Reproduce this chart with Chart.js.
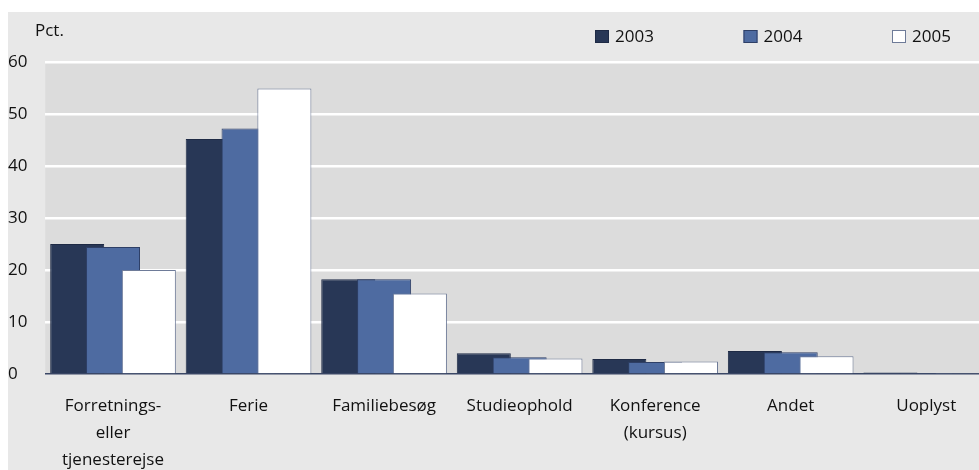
<!DOCTYPE html>
<html>
<head>
<meta charset="utf-8">
<script src="https://cdn.jsdelivr.net/npm/chart.js@4.4.1/dist/chart.umd.min.js"></script>
<style>
  html, body { margin: 0; padding: 0; background: #ffffff; overflow: hidden; width: 979px; height: 470px; }
  #wrap { position: relative; width: 994px; height: 470px; }
  canvas { display: block; }
</style>
</head>
<body>
<div id="wrap"><canvas id="c" width="994" height="470"></canvas></div>
<script>
const categories = [["Forretnings-", "eller", "tjenesterejse"], "Ferie", "Familiebesøg", "Studieophold", ["Konference", "(kursus)"], "Andet", "Uoplyst"];
const years = ["2003", "2004", "2005"];
const values2003 = [25.0, 45.2, 18.2, 4.0, 2.9, 4.4, 0.3];
const values2004 = [24.4, 47.2, 18.2, 3.2, 2.3, 4.2, 0.2];
const values2005 = [20.0, 54.9, 15.5, 3.0, 2.4, 3.4, 0.2];
const yTickValues = [0, 10, 20, 30, 40, 50, 60];
const yUnit = "Pct.";

const FONT = "'Open Sans', sans-serif";
const TEXT = '#111111';
const fills = ["#283756", "#4e6ba1", "#ffffff"];
const borders = ["#1e2a45", "#2e3f66", "#6e7b98"];

const bgPlugin = {
  id: 'bg',
  beforeDraw(chart) {
    const ctx = chart.ctx, a = chart.chartArea;
    ctx.save();
    ctx.fillStyle = '#e8e8e8';
    ctx.fillRect(8, 12, chart.width - 8, chart.height - 12);
    ctx.fillStyle = '#dcdcdc';
    ctx.fillRect(a.left, a.top, a.right - a.left, a.bottom - a.top);
    ctx.restore();
  }
};

const orderPlugin = {
  id: 'drawOrder',
  beforeDatasetsDraw(chart) {
    const metas = chart.getSortedVisibleDatasetMetas();
    for (let i = 0; i < metas.length; i++) chart._drawDataset(metas[i]);
    return false;
  }
};

const legendPlugin = {
  id: 'customLegend',
  afterDraw(chart) {
    const ctx = chart.ctx;
    ctx.save();
    ctx.font = "17px " + FONT;
    ctx.textBaseline = 'middle';
    ctx.textAlign = 'left';
    ctx.fillStyle = TEXT;
    ctx.fillText(yUnit, 35, 31);
    chart.data.datasets.forEach((ds, i) => {
      const x = 595 + i * 148.5;
      const y = 30;
      ctx.fillStyle = ds.backgroundColor;
      ctx.fillRect(x, y, 14, 13);
      ctx.strokeStyle = ds.borderColor;
      ctx.lineWidth = 1;
      ctx.strokeRect(x + 0.5, y + 0.5, 13, 12);
      ctx.fillStyle = TEXT;
      ctx.fillText(ds.label, x + 20, y + 7);
    });
    ctx.restore();
  }
};

const seriesValues = [values2003, values2004, values2005];

new Chart(document.getElementById('c'), {
  type: 'bar',
  data: {
    labels: categories,
    datasets: years.map((y, i) => ({
      label: y,
      data: seriesValues[i],
      backgroundColor: fills[i],
      borderColor: borders[i],
      borderWidth: 1,
      categoryPercentage: 0.793,
      barPercentage: 1.508
    }))
  },
  options: {
    responsive: false,
    animation: false,
    layout: { padding: { left: 8, top: 62, right: 0, bottom: 0 } },
    plugins: {
      legend: { display: false },
      tooltip: { enabled: false },
      title: { display: false }
    },
    scales: {
      x: {
        grid: { display: false, drawTicks: false },
        border: { display: false },
        ticks: {
          font: { family: FONT, size: 17, lineHeight: 1.58 },
          color: TEXT,
          padding: 19,
          maxRotation: 0,
          autoSkip: false
        },
        afterFit(scale) { scale.height = 96; }
      },
      y: {
        min: 0,
        max: 60,
        afterBuildTicks(scale) { scale.ticks = yTickValues.map(v => ({ value: v })); },
        grid: {
          drawTicks: false,
          color: (c) => c.tick && c.tick.value === 0 ? '#3a4766' : '#ffffff',
          lineWidth: (c) => c.tick && c.tick.value === 0 ? 1.5 : 2.5
        },
        border: { display: false },
        ticks: {
          font: { family: FONT, size: 17 },
          color: TEXT,
          crossAlign: 'far',
          padding: 0
        },
        afterFit(scale) { scale.width = 37.25; }
      }
    }
  },
  plugins: [bgPlugin, orderPlugin, legendPlugin]
});
</script>
</body>
</html>
